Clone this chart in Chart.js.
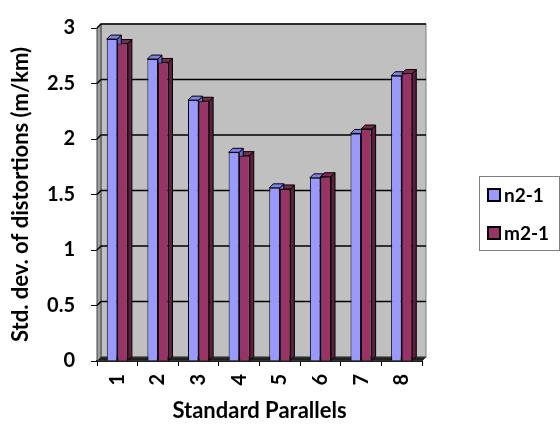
<!DOCTYPE html>
<html>
<head>
<meta charset="utf-8">
<script src="https://cdn.jsdelivr.net/npm/chart.js@4.4.0/dist/chart.umd.min.js"></script>
<style>
  body { margin: 0; background: #fff; }
  #wrap { position: relative; width: 560px; height: 428px; }
  #legend {
    position: absolute; left: 479px; top: 176px; width: 81px; height: 75px;
    border: 1px solid #808080; box-sizing: border-box;
    font-family: Lato, "DejaVu Sans", sans-serif; font-weight: bold; font-size: 19px; color: #000;
  }
  .item { position: absolute; left: 7px; display: flex; align-items: center; }
  .swatch { width: 10px; height: 10px; border: 2px solid #000; margin-right: 3px; }
</style>
</head>
<body>
<div id="wrap">
  <canvas id="chart" width="560" height="428"></canvas>
  <div id="legend"></div>
</div>
<script>
// data
const categories = ['1', '2', '3', '4', '5', '6', '7', '8'];
const n21 = [2.90, 2.72, 2.35, 1.88, 1.56, 1.65, 2.05, 2.57];
const m21 = [2.86, 2.69, 2.34, 1.85, 1.55, 1.66, 2.09, 2.59];
const seriesNames = ['n2-1', 'm2-1'];
const yMin = 0, yMax = 3, yStep = 0.5;

const FONT = 'Lato, "DejaVu Sans", sans-serif';
const DEPTH = 4;
const front = ['#9999FF', '#993366'];
const topFace = ['#8080E6', '#7A2952'];
const sideFace = ['#6666CC', '#5C1F3D'];

function poly(ctx, pts, fill) {
    ctx.beginPath();
    ctx.moveTo(pts[0][0], pts[0][1]);
    for (let i = 1; i < pts.length; i++) ctx.lineTo(pts[i][0], pts[i][1]);
    ctx.closePath();
    ctx.fillStyle = fill;
    ctx.fill();
    ctx.stroke();
}

// walls, back gridlines and the top/side faces of the bars
const threeD = {
    id: 'threeD',
    beforeDatasetsDraw(chart) {
        const { ctx, chartArea: { left, top, right, bottom }, scales: { y } } = chart;
        const d = DEPTH;
        ctx.save();
        ctx.lineWidth = 1;
        ctx.strokeStyle = '#808080';
        // back wall
        ctx.fillStyle = '#C0C0C0';
        ctx.fillRect(left + d, top - d, right - left, bottom - top);
        ctx.strokeRect(left + d, top - d, right - left, bottom - top);
        // left wall
        ctx.strokeStyle = '#404040';
        poly(ctx, [[left, top], [left + d, top - d], [left + d, bottom - d], [left, bottom]], '#A0A0A0');
        // floor
        poly(ctx, [[left, bottom], [left + d, bottom - d], [right + d, bottom - d], [right, bottom]], '#202020');

        // gridlines on the back wall
        ctx.strokeStyle = '#000';
        ctx.lineWidth = 1.5;
        y.ticks.forEach(t => {
            if (t.value === yMin) return;
            const py = y.getPixelForValue(t.value);
            ctx.beginPath();
            ctx.moveTo(left, py);
            ctx.lineTo(left + d, py - d);
            ctx.lineTo(right + d, py - d);
            ctx.stroke();
        });

        // bar faces
        ctx.lineWidth = 1;
        ctx.strokeStyle = '#000';
        const metas = chart.data.datasets.map((ds, i) => chart.getDatasetMeta(i));
        const faces = (i, j) => {
            const p = metas[i].data[j].getProps(['x', 'y', 'base', 'width'], true);
            const l = p.x - p.width / 2, r = p.x + p.width / 2;
            poly(ctx, [[r, p.y], [r + d, p.y - d], [r + d, p.base - d], [r, p.base]], sideFace[i]);
            poly(ctx, [[l, p.y], [l + d, p.y - d], [r + d, p.y - d], [r, p.y]], topFace[i]);
        };
        categories.forEach((c, j) => {
            if (n21[j] >= m21[j]) { faces(1, j); faces(0, j); }
            else { faces(0, j); faces(1, j); }
        });
        ctx.restore();
    }
};

new Chart(document.getElementById('chart'), {
    type: 'bar',
    data: {
        labels: categories,
        datasets: [
            { label: seriesNames[0], data: n21, backgroundColor: front[0], borderColor: '#000', borderWidth: 1 },
            { label: seriesNames[1], data: m21, backgroundColor: front[1], borderColor: '#000', borderWidth: 1 }
        ]
    },
    options: {
        responsive: false,
        animation: false,
        events: [],
        layout: { padding: { left: 6, right: 138, top: 12, bottom: 2 } },
        datasets: { bar: { categoryPercentage: 0.52, barPercentage: 1.0 } },
        plugins: {
            legend: { display: false },
            tooltip: { enabled: false }
        },
        scales: {
            x: {
                grid: { display: true, drawOnChartArea: false, color: '#000', tickLength: 5, offset: true },
                border: { color: '#000', width: 2 },
                ticks: {
                    color: '#000', font: { family: FONT, weight: 'bold', size: 20 },
                    minRotation: 90, maxRotation: 90, padding: 8
                },
                title: {
                    display: true, text: 'Standard Parallels', color: '#000',
                    font: { family: FONT, weight: 'bold', size: 22 }, padding: { top: 2, bottom: 2 }
                },
                afterFit(scale) { scale.height = 65; }
            },
            y: {
                min: yMin, max: yMax,
                grid: { display: true, drawOnChartArea: false, color: '#000', tickLength: 6 },
                border: { color: '#000', width: 1 },
                ticks: {
                    stepSize: yStep, color: '#000', padding: 16,
                    font: { family: FONT, weight: 'bold', size: 20 },
                    callback: v => String(v)
                },
                title: {
                    display: true, text: 'Std. dev. of distortions (m/km)', color: '#000',
                    font: { family: FONT, weight: 'bold', size: 22 }, padding: { top: 2, bottom: 2 }
                },
                afterFit(scale) { scale.width = 91; }
            }
        }
    },
    plugins: [threeD]
});

// legend
const legend = document.getElementById('legend');
seriesNames.forEach((name, i) => {
    const item = document.createElement('div');
    item.className = 'item';
    item.style.top = (i === 0 ? 6 : 44) + 'px';
    item.innerHTML = `<span class="swatch" style="background:${front[i]}"></span><span>${name}</span>`;
    legend.appendChild(item);
});
</script>
</body>
</html>
